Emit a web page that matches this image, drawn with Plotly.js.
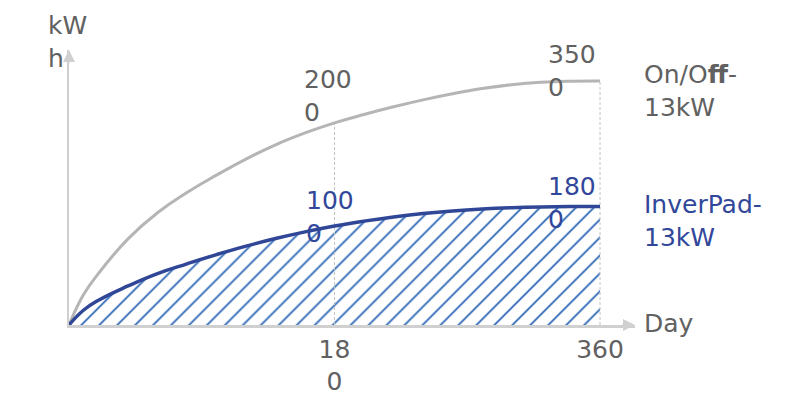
<!DOCTYPE html>
<html>
<head>
<meta charset="utf-8">
<script src="https://cdn.plot.ly/plotly-3.0.1.min.js"></script>
<style>
  html, body { margin: 0; padding: 0; background: #fff; }
  #chart { width: 789px; height: 393px; }
</style>
</head>
<body>
<div id="chart"></div>
<script>
// accumulated energy, kWh
const days = [0, 10, 20, 40, 60, 80, 100, 120, 140, 160, 180, 200, 220, 240, 260, 280, 300, 320, 340, 360];
const onOffKwh = [0, 440, 740, 1235, 1610, 1900, 2150, 2380, 2585, 2755, 2900, 3020, 3130, 3230, 3318, 3392, 3447, 3482, 3497, 3500];
const inverPadKwh = [0, 215, 355, 560, 738, 878, 1010, 1132, 1240, 1336, 1420, 1490, 1550, 1598, 1636, 1664, 1683, 1694, 1699, 1700];

// marked days and the labels written on the curves (wrapped as in the picture)
const markDays = [180, 360];
const onOffLabels = ['200<br>0', '350<br>0'];
const inverPadLabels = ['100<br>0', '180<br>0'];

// x axis ticks
const tickDays = [180, 360];
const tickText = ['18<br>0', '360'];

const onOffName = 'On/O<b>ff</b>-<br>13kW';
const inverPadName = 'InverPad-<br>13kW';

const GREY_TEXT = '#616161';
const GREY_LINE = '#b5b5b5';
const BLUE_TEXT = '#31479a';
const BLUE_LINE = '#2f4796';
const HATCH = '#2a66b4';
const AXIS = '#d0d0d0';
const FONT = 'DejaVu Sans';
const FS = 25;

const xMax = 383.7;
const yMax = 3945;

function valueAt(series, day) {
    return series[days.indexOf(day)];
}

const traces = [];

// hatched area under InverPad
traces.push({
    x: days, y: inverPadKwh,
    type: 'scatter', mode: 'lines', line: { width: 0, shape: 'spline', smoothing: 1.3 },
    fill: 'tozeroy', fillcolor: 'rgba(255,255,255,0)',
    fillpattern: { shape: '/', fgcolor: HATCH, fgopacity: 1, bgcolor: 'rgba(255,255,255,0)', size: 12.7, solidity: 0.14 },
    hoverinfo: 'skip'
});

// dashed drop lines
markDays.forEach(d => {
    traces.push({
        x: [d, d], y: [0, valueAt(onOffKwh, d)],
        type: 'scatter', mode: 'lines',
        line: { color: '#c4c4c4', width: 1, dash: '3px,2px' },
        hoverinfo: 'skip'
    });
});

traces.push({
    x: days, y: onOffKwh, type: 'scatter', mode: 'lines',
    line: { color: GREY_LINE, width: 3, shape: 'spline', smoothing: 1.3 }
});
traces.push({
    x: days, y: inverPadKwh, type: 'scatter', mode: 'lines',
    line: { color: BLUE_LINE, width: 3.5, shape: 'spline', smoothing: 1.3 }
});

const annotations = [];

// value labels
const onOffShift = [[-32.5, -6.5], [-54, -23]];
const inverShift = [[-30.5, -23.5], [-54, -29]];
markDays.forEach((d, i) => {
    annotations.push({
        x: d, y: valueAt(onOffKwh, d), text: onOffLabels[i],
        xanchor: 'left', yanchor: 'bottom', align: 'left', showarrow: false,
        xshift: onOffShift[i][0], yshift: onOffShift[i][1],
        font: { family: FONT, size: FS, color: GREY_TEXT }
    });
    annotations.push({
        x: d, y: valueAt(inverPadKwh, d), text: inverPadLabels[i],
        xanchor: 'left', yanchor: 'bottom', align: 'left', showarrow: false,
        xshift: inverShift[i][0], yshift: inverShift[i][1],
        font: { family: FONT, size: FS, color: BLUE_TEXT }
    });
});

// series names at the line ends
const last = days[days.length - 1];
annotations.push({
    x: last, y: valueAt(onOffKwh, last), text: onOffName,
    xanchor: 'left', yanchor: 'bottom', align: 'left', showarrow: false,
    xshift: 42, yshift: -43,
    font: { family: FONT, size: FS, color: GREY_TEXT }
});
annotations.push({
    x: last, y: valueAt(inverPadKwh, last), text: inverPadName,
    xanchor: 'left', yanchor: 'bottom', align: 'left', showarrow: false,
    xshift: 42, yshift: -47,
    font: { family: FONT, size: FS, color: BLUE_TEXT }
});

// axis names
annotations.push({
    x: xMax, y: 0, text: 'Day', xanchor: 'left', yanchor: 'bottom', showarrow: false,
    xshift: 7, yshift: -15,
    font: { family: FONT, size: FS, color: GREY_TEXT }
});
annotations.push({
    x: 0, y: yMax, text: 'kW<br>h', xanchor: 'left', yanchor: 'bottom', align: 'left', showarrow: false,
    xshift: -23, yshift: -25,
    font: { family: FONT, size: FS, color: GREY_TEXT }
});

// arrow heads on the axes
annotations.push({
    x: xMax, y: 0, ax: -14, ay: 0, text: '', showarrow: true,
    arrowhead: 2, arrowsize: 1.2, arrowwidth: 2, arrowcolor: AXIS
});
annotations.push({
    x: 0, y: yMax, ax: 0, ay: 14, text: '', showarrow: true,
    arrowhead: 2, arrowsize: 1.2, arrowwidth: 2, arrowcolor: AXIS
});

const layout = {
    width: 789, height: 393,
    margin: { l: 69, r: 154, t: 50, b: 68 },
    paper_bgcolor: '#fff', plot_bgcolor: '#fff',
    showlegend: false,
    xaxis: {
        range: [0, xMax], showgrid: false, zeroline: false,
        showline: true, linecolor: AXIS, linewidth: 2.5,
        tickvals: tickDays, ticktext: tickText, ticks: '',
        tickfont: { family: FONT, size: FS, color: GREY_TEXT },
        ticklabelstandoff: 0
    },
    yaxis: {
        range: [0, yMax], showgrid: false, zeroline: false,
        showline: true, linecolor: AXIS, linewidth: 2.5,
        showticklabels: false, ticks: ''
    },
    annotations: annotations
};

Plotly.newPlot('chart', traces, layout, { displayModeBar: false, staticPlot: true });
</script>
</body>
</html>
